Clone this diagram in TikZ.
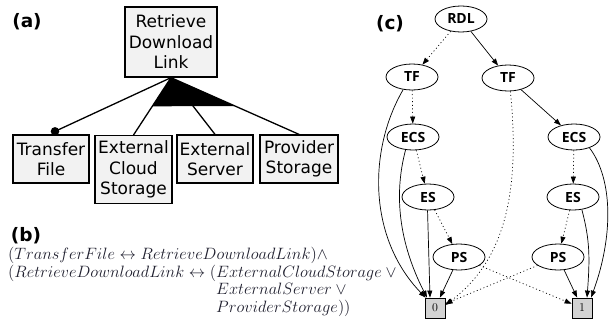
\documentclass[tikz,border=0pt]{standalone}
\usepackage{fontspec}
\usepackage{graphicx}
\usetikzlibrary{shapes.geometric,arrows.meta,calc}
\newfontfamily\dv{DejaVu Sans}
\newfontfamily\cfont{Open Sans}
\definecolor{boxfill}{HTML}{F2F2F2}
\definecolor{sinkfill}{HTML}{D3D3D3}
\definecolor{formula}{rgb}{0.12,0.12,0.18}
\newcommand{\frmtext}[1]{\smash{\scalebox{1.37}{$#1$}}}
\tikzset{
 fbox/.style={draw, line width=1.3pt, fill=boxfill, inner sep=0pt, align=center, font=\dv\fontsize{17}{20.5}\selectfont},
 fline/.style={line width=1.3pt},
 bnode/.style={ellipse, draw, line width=0.8pt, fill=white, minimum width=52pt, minimum height=26pt, inner sep=0pt, font=\cfont\bfseries\fontsize{14}{16}\selectfont},
 sink/.style={draw, line width=0.8pt, fill=sinkfill, minimum size=20pt, inner sep=0pt, font=\fontsize{12}{13}\selectfont},
 hi/.style={line width=0.7pt, -{Triangle[length=7pt,width=5pt]}},
 lo/.style={hi, dash pattern=on 1pt off 2.6pt},
 panel/.style={font=\dv\bfseries\fontsize{18.5}{22}\selectfont, inner sep=0pt},
 frm/.style={anchor=base west, inner sep=0pt, text=formula, font=\fontsize{12}{15}\selectfont}
}
\begin{document}
\begin{tikzpicture}[x=1pt,y=-1pt]
\useasboundingbox (0,0) rectangle (609,321);
% panel labels
\node[panel] (la) at (27,22) {(a)};
\node[panel] (lb) at (26,236) {(b)};
\node[panel] (lc) at (390,24) {(c)};
% (a) feature model
\node[fbox, minimum width=92pt, minimum height=70pt] (root) at (171,42) {Retrieve\\Download\\Link};
\node[fbox, minimum width=76pt, minimum height=48pt] (tfa) at (51,159) {Transfer\\File};
\node[fbox, minimum width=77pt, minimum height=68pt, anchor=north] (ecsa) at (133.5,135) {External\\Cloud\\Storage};
\node[fbox, minimum width=76pt, minimum height=48pt] (esa) at (215,159) {External\\Server};
\node[fbox, minimum width=78pt, minimum height=48pt] (psa) at (299,159) {Provider\\Storage};
\coordinate (tfp) at ([xshift=4pt,yshift=3pt]tfa.north);
\draw[fline] (root.south) -- (tfp);
\fill (tfp) circle (4.3pt);
\draw[fline] (root.south) -- (ecsa.north);
\draw[fline] (root.south) -- (esa.north);
\draw[fline] (root.south) -- (psa.north);
\fill ($(root.south)!0.5!(ecsa.north)$) -- (root.south) -- ($(root.south)!0.5!(psa.north)$) -- cycle;
% (b) formula
\node[frm] (f1) at (8,259.5) {\frmtext{(TransferFile \leftrightarrow RetrieveDownloadLink)\wedge}};
\node[frm] (f2) at (8,277) {\frmtext{(RetrieveDownloadLink \leftrightarrow (ExternalCloudStorage \vee{}}};
\node[frm] (f3) at (8,294.5) {\frmtext{\phantom{(RetrieveDownloadLink \leftrightarrow (}ExternalServer \vee{}}};
\node[frm] (f4) at (8,312) {\frmtext{\phantom{(RetrieveDownloadLink \leftrightarrow (}ProviderStorage))}};
% (c) BDD
\node[bnode] (rdl) at (461,19) {RDL};
\node[bnode] (tfL) at (412,77) {TF};
\node[bnode] (tfR) at (508,78) {TF};
\node[bnode] (ecsL) at (413,137) {ECS};
\node[bnode] (ecsR) at (574,137) {ECS};
\node[bnode] (esL) at (428,197) {ES};
\node[bnode] (esR) at (573,197) {ES};
\node[bnode] (psL) at (459,257) {PS};
\node[bnode] (psR) at (558,257) {PS};
\node[sink] (z0) at (435,308) {0};
\node[sink] (z1) at (582,308) {1};
\draw[lo] (rdl) -- (tfL);
\draw[hi] (rdl) -- (tfR);
\draw[lo] (tfL) -- (ecsL);
\draw[hi] (tfR) -- (ecsR);
\draw[lo] (ecsL) -- (esL);
\draw[lo] (ecsR) -- (esR);
\draw[lo] (esL) -- (psL);
\draw[lo] (esR) -- (psR);
\draw[hi] (psL) -- (z0);
\draw[hi] (psR) -- (z1);
\draw[lo] (psL) -- (z1);
\draw[lo] (psR) -- (z0);
\draw[hi] (esL.-92) -- ([xshift=-5pt]z0.north);
\draw[hi] (tfL.235) .. controls +(-35,60) and +(-58,-60) .. ([xshift=1pt]z0.north west);
\draw[hi] (ecsL.-120) .. controls +(-12,45) and +(-28,-55) .. ([xshift=-8pt]z0.north);
\draw[lo] (tfR.-80) .. controls +(10,100) and +(60,-45) .. ([yshift=3pt]z0.east);
\draw[hi] (esR.-55) .. controls +(8,30) and +(3,-40) .. ([xshift=5pt]z1.north);
\draw[hi] (ecsR.-35) .. controls +(24,32) and +(22,-60) .. ([xshift=9pt]z1.north);
\end{tikzpicture}
\end{document}
